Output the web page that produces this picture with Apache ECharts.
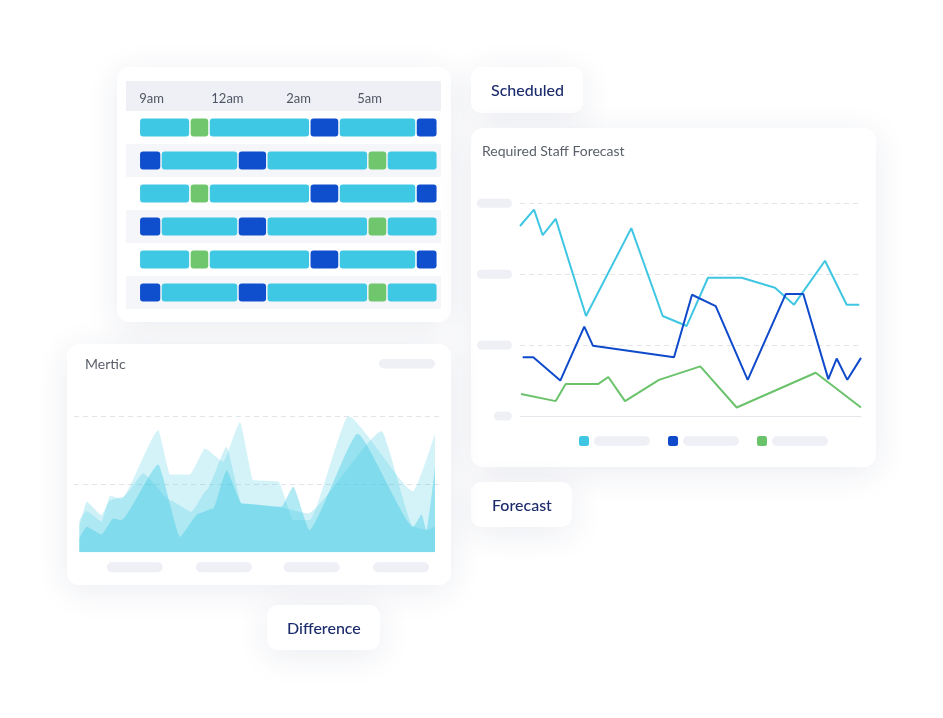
<!DOCTYPE html>
<html>
<head>
<meta charset="utf-8">
<script src="https://cdn.jsdelivr.net/npm/echarts@6.0.0/dist/echarts.min.js"></script>
<style>
  html, body { margin: 0; padding: 0; background: #fff; }
  #main { width: 943px; height: 718px; }
</style>
</head>
<body>
<div id="main"></div>
<script>
/* staffing dashboard illustration: schedule, forecast lines, metric areas */

// schedule rows: segment lengths (minutes from 9am) and kind of each segment
const scheduleRows = ['A1', 'B1', 'A2', 'B2', 'A3', 'B3'];
const rowASpans = [50.6, 19.1, 100.8, 29.2, 77, 21.3];
const rowAKinds = [0, 1, 0, 2, 0, 2];
const rowBSpans = [21.7, 77, 28.8, 101, 19.2, 50.3];
const rowBKinds = [2, 0, 2, 0, 1, 0];
const hourTicks = [0, 72, 147, 218];
const hourLabels = ['9am', '12am', '2am', '5am'];
const kindColors = ['#3ec8e3', '#6fc66d', '#0f4ecd'];

// required staff forecast, [position, staff]
const forecastNames = ['Required', 'Scheduled', 'Difference'];
const requiredLine = [[0, 2.68], [14, 2.91], [22.7, 2.55], [35.7, 2.78], [66, 1.41], [111.3, 2.65],
    [142.7, 1.41], [166.7, 1.27], [188, 1.95], [221.7, 1.95], [255, 1.81], [274, 1.57],
    [305, 2.19], [326.7, 1.57], [339.3, 1.57]];
const scheduledLine = [[2.7, 0.83], [13.3, 0.83], [40.3, 0.5], [64.3, 1.26], [73, 0.99], [154, 0.83],
    [172, 1.71], [195.7, 1.55], [227.7, 0.51], [265.7, 1.72], [283.3, 1.72], [308.3, 0.52],
    [316.7, 0.81], [327.3, 0.51], [341, 0.82]];
const differenceLine = [[1, 0.31], [35.7, 0.21], [45.7, 0.45], [78, 0.45], [88.3, 0.55], [105, 0.21],
    [139, 0.51], [180.3, 0.7], [216.7, 0.12], [295.7, 0.61], [341, 0.12]];
const forecastColors = ['#3fc6e2', '#0f4acb', '#6ac36b'];

// metric areas, [position, value]
const metricMain = [[0, 14], [7.3, 25.7], [22.3, 18], [34, 34], [42.3, 32.3], [79, 88], [100.7, 15.7],
    [119, 39], [134, 44], [147.3, 82.3], [162.3, 49], [202.3, 45.7], [214, 65.7], [230, 22.3],
    [278.3, 119], [334, 25.7], [342.3, 38], [347.3, 22.3], [355.7, 85.7]];
const metricHigh = [[0, 32.3], [7.3, 41.3], [22.3, 30.7], [30.7, 56.7], [42.3, 53.3], [79, 122.3],
    [90.7, 78], [110.7, 78], [125.7, 104], [144, 90.7], [160.7, 130.7], [174, 72.3], [199, 71.3],
    [214, 32.3], [230.7, 32.3], [269, 136.7], [334, 61.3], [355.7, 119]];
const metricMid = [[0, 25.7], [7.3, 50.7], [22.3, 37.3], [30.7, 52.3], [44, 55.7], [64, 79],
    [90.7, 52.3], [112.3, 40.7], [127.3, 62.3], [147.3, 105.7], [162.3, 49], [197.3, 45.7],
    [229, 39], [302.3, 121.3], [334, 25.7], [347.3, 22.3], [355.7, 25.7]];
const metricPills = [55.4, 144.6, 232.4, 321.7];

// build gantt segments
let ganttData = [];
scheduleRows.forEach(function (name, r) {
    let spans = r % 2 === 0 ? rowASpans : rowBSpans;
    let kinds = r % 2 === 0 ? rowAKinds : rowBKinds;
    let t = 0;
    spans.forEach(function (len, i) {
        ganttData.push([t, t + len, r, kinds[i]]);
        t += len;
    });
});

const FONT = 'Lato, "Noto Sans", sans-serif';
const pill = { width: 56, height: 10, lineHeight: 10, backgroundColor: '#eef0f6', borderRadius: 5, color: 'transparent' };
const dashed = { color: '#e1e4ea', type: [5, 4], width: 1 };

function card(x, y, w, h, r) {
    return {
        type: 'rect', z: -10,
        shape: { x: x, y: y, width: w, height: h, r: r },
        style: { fill: '#fff', shadowBlur: 34, shadowColor: 'rgba(30,45,95,0.09)', shadowOffsetY: 6 }
    };
}
function label(text, x, y, size, color, weight) {
    return {
        type: 'text', z: 100, x: x, y: y,
        style: { text: text, font: (weight || 'normal') + ' ' + size + 'px ' + FONT, fill: color, verticalAlign: 'middle' }
    };
}

let graphic = [
    card(117, 67, 334, 255, 12),
    card(471, 67, 112, 46, 10),
    card(471, 128, 405, 339, 12),
    card(471, 482, 101, 45, 10),
    card(67, 344, 384, 241, 12),
    card(267, 605, 113, 45, 10),
    { type: 'rect', z: -5, shape: { x: 126, y: 81, width: 315, height: 30 }, style: { fill: '#eef0f6' } },
    { type: 'rect', z: -5, shape: { x: 379, y: 359, width: 56, height: 9.5, r: 5 }, style: { fill: '#eef0f6' } },
    label('Scheduled', 491, 91, 16, '#1b2b6b', '500'),
    label('Forecast', 492, 506, 16, '#1b2b6b', '500'),
    label('Difference', 287, 629, 16, '#1b2b6b', '500'),
    label('Required Staff Forecast', 482, 151, 14, '#5a5f6a'),
    label('Mertic', 85, 364, 14, '#5a5f6a')
];

let grid = [
    { left: 126, top: 111, width: 315, height: 198 },
    { left: 520, top: 203.3, width: 341, height: 212.7 },
    { left: 74, top: 416.7, width: 366, height: 135.6 }
];

let xAxis = [
    {
        gridIndex: 0, type: 'value', position: 'top', min: -13.3, max: 301.7,
        axisLine: { show: false }, axisTick: { show: false }, splitLine: { show: false },
        axisLabel: {
            customValues: hourTicks, margin: 6, align: 'left',
            color: '#4f5562', fontSize: 13, fontFamily: FONT,
            formatter: function (v) { return hourLabels[hourTicks.indexOf(v)]; }
        }
    },
    {
        gridIndex: 1, type: 'value', min: 0, max: 341,
        axisLine: { show: true, lineStyle: { color: '#e3e6eb' } },
        axisTick: { show: false }, axisLabel: { show: false }, splitLine: { show: false }
    },
    {
        gridIndex: 2, type: 'value', min: -5.3, max: 360.7,
        axisLine: { show: false }, axisTick: { show: false }, splitLine: { show: false },
        axisLabel: { customValues: metricPills, margin: 10, formatter: function () { return '{p| }'; }, rich: { p: pill } }
    }
];

let yAxis = [
    {
        gridIndex: 0, type: 'category', data: scheduleRows, inverse: true,
        axisLine: { show: false }, axisTick: { show: false }, axisLabel: { show: false },
        splitArea: { show: true, areaStyle: { color: ['#ffffff', '#f5f6fa'] } }
    },
    {
        gridIndex: 1, type: 'value', min: 0, max: 3, interval: 1,
        axisLine: { show: false }, axisTick: { show: false },
        splitLine: { showMinLine: false, lineStyle: dashed },
        axisLabel: {
            margin: 8,
            formatter: function (v) { return v === 0 ? '{s| }' : '{p| }'; },
            rich: {
                p: { width: 35, height: 9, lineHeight: 9, backgroundColor: '#eef0f6', borderRadius: 4.5, color: 'transparent' },
                s: { width: 18, height: 9, lineHeight: 9, backgroundColor: '#eef0f6', borderRadius: 4.5, color: 'transparent' }
            }
        }
    },
    {
        gridIndex: 2, type: 'value', min: 0, max: 136, interval: 68,
        axisLine: { show: false }, axisTick: { show: false }, axisLabel: { show: false },
        splitLine: { show: true, showMinLine: false, lineStyle: dashed }
    }
];

let series = [
    {
        type: 'custom', name: 'Shifts', xAxisIndex: 0, yAxisIndex: 0,
        encode: { x: [0, 1], y: 2 },
        data: ganttData,
        renderItem: function (params, api) {
            let a = api.coord([api.value(0), api.value(2)]);
            let b = api.coord([api.value(1), api.value(2)]);
            let h = 18;
            return {
                type: 'rect',
                shape: { x: a[0] + 0.75, y: a[1] - h / 2, width: b[0] - a[0] - 1.5, height: h, r: 3 },
                style: { fill: kindColors[api.value(3)] }
            };
        }
    }
];

[requiredLine, scheduledLine, differenceLine].forEach(function (d, i) {
    series.push({
        type: 'line', name: forecastNames[i], xAxisIndex: 1, yAxisIndex: 1,
        data: d, showSymbol: false, color: forecastColors[i],
        lineStyle: { width: 2, color: forecastColors[i] }
    });
});

[[metricHigh, 0.22], [metricMid, 0.25], [metricMain, 0.4]].forEach(function (m, i) {
    series.push({
        type: 'line', name: 'metric' + i, xAxisIndex: 2, yAxisIndex: 2,
        data: m[0], showSymbol: false, smooth: 0.15, smoothMonotone: 'x',
        lineStyle: { width: 0 },
        areaStyle: { color: '#3cc8e4', opacity: m[1] }
    });
});

let option = {
    backgroundColor: '#ffffff',
    animation: false,
    graphic: graphic,
    grid: grid,
    xAxis: xAxis,
    yAxis: yAxis,
    legend: {
        data: forecastNames.map(function (n) { return { name: n, icon: 'roundRect' }; }),
        left: 579, top: 435, padding: 0, itemWidth: 10, itemHeight: 10, itemGap: 18,
        formatter: function () { return '{p| }'; },
        textStyle: { rich: { p: { width: 56, height: 9.5, lineHeight: 9.5, backgroundColor: '#eef0f6', borderRadius: 5, color: 'transparent' } } },
        selectedMode: false
    },
    series: series
};

let chart = echarts.init(document.getElementById('main'));
chart.setOption(option);
</script>
</body>
</html>
